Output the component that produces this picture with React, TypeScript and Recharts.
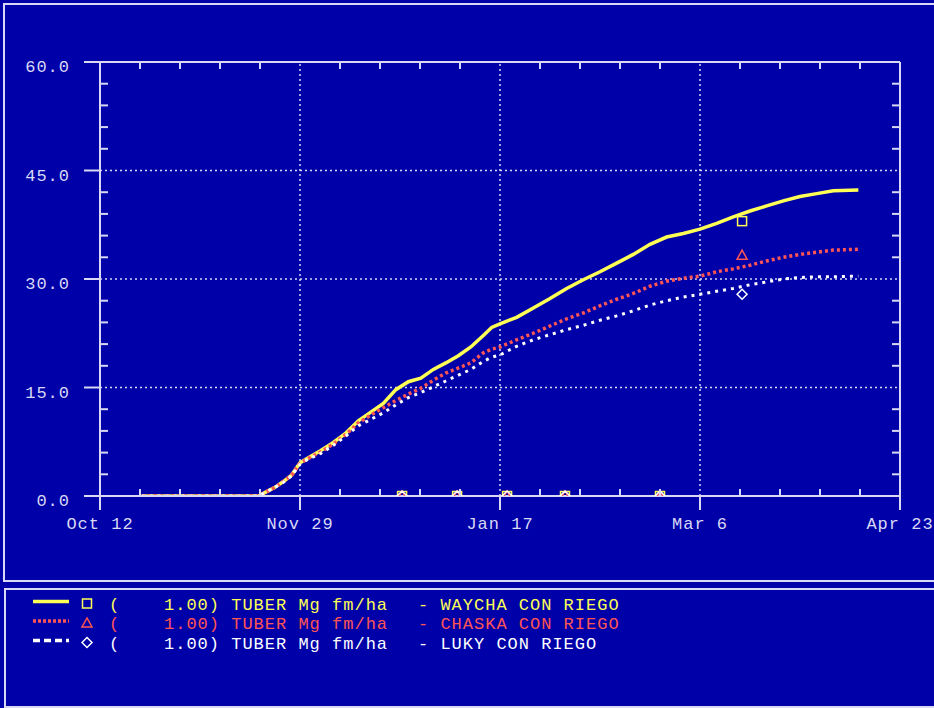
import { ComposedChart, Line, Scatter, XAxis, YAxis, ReferenceLine } from 'recharts'

// simulation days counted from Oct 12
const days = [10, 15, 20, 25, 30, 35, 38, 40, 42, 44, 46, 48, 50, 53, 56, 59, 62, 65, 68, 71, 74, 77, 80, 83, 86, 89, 92, 94, 96, 100, 104, 108, 112, 116, 120, 124, 128, 132, 136, 140, 144, 148, 152, 156, 160, 164, 168, 172, 176, 182]

// tuber dry matter, Mg fm/ha
const waycha = [0, 0, 0, 0, 0, 0, 0, 0.6, 1.2, 2.0, 2.9, 4.6, 5.3, 6.3, 7.4, 8.7, 10.4, 11.6, 12.8, 14.7, 15.8, 16.3, 17.5, 18.4, 19.4, 20.6, 22.2, 23.3, 23.8, 24.7, 26.0, 27.3, 28.7, 29.9, 31.0, 32.2, 33.4, 34.8, 35.8, 36.3, 36.9, 37.7, 38.6, 39.4, 40.1, 40.8, 41.4, 41.8, 42.2, 42.3]
const chaska = [0, 0, 0, 0, 0, 0, 0, 0.6, 1.2, 2.0, 2.9, 4.5, 5.2, 6.1, 7.2, 8.5, 10.1, 11.2, 12.2, 13.2, 14.1, 14.9, 16.0, 17.0, 17.7, 18.4, 19.8, 20.3, 20.6, 21.6, 22.5, 23.5, 24.5, 25.3, 26.3, 27.2, 28.0, 29.0, 29.7, 30.1, 30.4, 31.0, 31.4, 31.9, 32.5, 33.0, 33.4, 33.7, 34.0, 34.1]
const luky = [0, 0, 0, 0, 0, 0, 0, 0.6, 1.2, 1.9, 2.8, 4.4, 5.1, 5.9, 7.0, 8.3, 9.7, 10.6, 11.5, 12.6, 13.6, 14.3, 15.1, 15.9, 16.7, 17.5, 18.6, 19.2, 19.5, 20.7, 21.6, 22.3, 23.0, 23.6, 24.3, 24.9, 25.6, 26.4, 27.0, 27.5, 27.9, 28.3, 28.7, 29.2, 29.6, 30.0, 30.2, 30.3, 30.3, 30.4]

// field observations
const obsDays = [72.5, 85.7, 97.7, 111.6, 134.4, 154.1]
const obsWaycha = [0, 0, 0, 0, 0, 38.0]
const obsChaska = [0, 0, 0, 0, 0, 33.3]
const obsLuky = [0, 0, 0, 0, 0, 27.9]

const xMajorTicks = [0, 48, 96, 144, 192]
const xTickLabels = ['Oct 12', 'Nov 29', 'Jan 17', 'Mar 6', 'Apr 23']
const yMajorTicks = [0, 15, 30, 45, 60]

const BG = '#0000A8'
const AXIS = '#D8D8F4'
const YELLOW = '#FFFF55'
const RED = '#FF5555'
const WHITE = '#FFFFFF'
const FONT = "'Liberation Mono', monospace"

const table = days.map((d, i) => ({ day: d, waycha: waycha[i], chaska: chaska[i], luky: luky[i] }))
const obs = (vals: number[]) => obsDays.map((d, i) => ({ day: d, value: vals[i] }))

// five minor steps between each pair of majors
const withMinors = (majors: number[]) => {
  const out: number[] = []
  for (let i = 0; i < majors.length - 1; i++) {
    const step = (majors[i + 1] - majors[i]) / 5
    for (let k = 0; k < 5; k++) out.push(+(majors[i] + step * k).toFixed(3))
  }
  out.push(majors[majors.length - 1])
  return out
}
const xTicks = withMinors(xMajorTicks)
const yTicks = withMinors(yMajorTicks)
const isMajor = (majors: number[], v: number) => majors.some(m => Math.abs(m - v) < 1e-6)

const BottomTick = (props: any) => {
  const { x, y, payload } = props
  const idx = xMajorTicks.findIndex(m => Math.abs(m - payload.value) < 1e-6)
  if (idx < 0) return <line x1={x} x2={x} y1={y} y2={y - 7} stroke={AXIS} strokeWidth={2} />
  return (
    <g>
      <line x1={x} x2={x} y1={y} y2={y + 14} stroke={AXIS} strokeWidth={2} />
      <text x={x} y={y + 33} textAnchor="middle" fill={AXIS} fontFamily={FONT} fontSize={17} letterSpacing={1}>
        {xTickLabels[idx]}
      </text>
    </g>
  )
}

const TopTick = (props: any) => {
  const { x, y, payload } = props
  if (isMajor(xMajorTicks, payload.value)) return <g />
  return <line x1={x} x2={x} y1={y} y2={y + 7} stroke={AXIS} strokeWidth={2} />
}

const LeftTick = (props: any) => {
  const { x, y, payload } = props
  if (!isMajor(yMajorTicks, payload.value)) return <line x1={x} x2={x + 8} y1={y} y2={y} stroke={AXIS} strokeWidth={2} />
  return (
    <g>
      <line x1={x - 16} x2={x} y1={y} y2={y} stroke={AXIS} strokeWidth={2} />
      <text x={x - 30} y={y + 10} textAnchor="end" fill={AXIS} fontFamily={FONT} fontSize={17} letterSpacing={1}>
        {payload.value.toFixed(1)}
      </text>
    </g>
  )
}

const RightTick = (props: any) => {
  const { x, y, payload } = props
  if (isMajor(yMajorTicks, payload.value)) return <g />
  return <line x1={x} x2={x - 8} y1={y} y2={y} stroke={AXIS} strokeWidth={2} />
}

const Square = ({ cx, cy, color }: any) => (
  <rect x={cx - 4.5} y={cy - 4.5} width={9} height={9} fill="none" stroke={color} strokeWidth={1.5} />
)
const Triangle = ({ cx, cy, color }: any) => (
  <polygon points={`${cx},${cy - 5} ${cx - 5},${cy + 4} ${cx + 5},${cy + 4}`} fill="none" stroke={color} strokeWidth={1.5} />
)
const Diamond = ({ cx, cy, color }: any) => (
  <polygon points={`${cx},${cy - 5} ${cx + 5},${cy} ${cx},${cy + 5} ${cx - 5},${cy}`} fill="none" stroke={color} strokeWidth={1.5} />
)

const series = [
  { key: 'waycha', name: 'WAYCHA CON RIEGO', color: YELLOW, width: 3.5, dash: undefined, legendDash: undefined, Marker: Square, obs: obsWaycha },
  { key: 'chaska', name: 'CHASKA CON RIEGO', color: RED, width: 3.5, dash: '3 3', legendDash: '3 2', Marker: Triangle, obs: obsChaska },
  { key: 'luky', name: 'LUKY CON RIEGO', color: WHITE, width: 3, dash: '3 5', legendDash: '7 4', Marker: Diamond, obs: obsLuky },
]

const gridLine = { stroke: AXIS, strokeDasharray: '2 3', strokeWidth: 1.5 }

function Legend() {
  return (
    <svg width={934} height={120} style={{ position: 'absolute', left: 0, top: 588 }}>
      {series.map((s, i) => {
        const cy = 15.5 + i * 19.5
        return (
          <g key={s.key}>
            <line x1={33} x2={69} y1={cy - 2} y2={cy - 2} stroke={s.color} strokeWidth={3.5} strokeDasharray={s.legendDash} />
            <s.Marker cx={87} cy={cy} color={s.color} />
            <g fill={s.color} fontFamily={FONT} fontSize={17} letterSpacing={1}>
              <text x={109} y={cy + 6}>(</text>
              <text x={164} y={cy + 6}>1.00) TUBER Mg fm/ha</text>
              <text x={418} y={cy + 6}>- {s.name}</text>
            </g>
          </g>
        )
      })}
    </svg>
  )
}

export default function App() {
  return (
    <div style={{ position: 'absolute', left: 0, top: 0, width: 934, height: 708, background: BG, overflow: 'hidden' }}>
      <div style={{ position: 'absolute', left: 3, top: 3, width: 960, height: 575, border: `2px solid ${AXIS}` }} />
      <div style={{ position: 'absolute', left: 4, top: 588, width: 960, height: 116, border: `2px solid ${AXIS}` }} />
      <div style={{ position: 'absolute', left: 0, top: 0 }}>
        <ComposedChart width={934} height={580} data={table} margin={{ top: 52, right: 0, bottom: 44, left: 0 }}>
          <XAxis dataKey="day" type="number" domain={[0, 192]} ticks={xTicks} interval={0} allowDataOverflow
            tickSize={0} tickMargin={0} height={40} tickLine={false} axisLine={{ stroke: AXIS, strokeWidth: 2 }} tick={BottomTick} />
          <XAxis xAxisId="top" orientation="top" dataKey="day" type="number" domain={[0, 192]} ticks={xTicks} interval={0} allowDataOverflow
            tickSize={0} tickMargin={0} height={10} tickLine={false} axisLine={{ stroke: AXIS, strokeWidth: 2 }} tick={TopTick} />
          <YAxis type="number" domain={[0, 60]} ticks={yTicks} interval={0} allowDataOverflow
            tickSize={0} tickMargin={0} width={100} tickLine={false} axisLine={{ stroke: AXIS, strokeWidth: 2 }} tick={LeftTick} />
          <YAxis yAxisId="right" orientation="right" type="number" domain={[0, 60]} ticks={yTicks} interval={0} allowDataOverflow
            tickSize={0} tickMargin={0} width={34} tickLine={false} axisLine={{ stroke: AXIS, strokeWidth: 2 }} tick={RightTick} />
          {[15, 30, 45].map(v => <ReferenceLine key={'h' + v} y={v} {...gridLine} />)}
          {[48, 96, 144].map(v => <ReferenceLine key={'v' + v} x={v} {...gridLine} />)}
          {series.map(s => (
            <Line key={s.key} dataKey={s.key} type="linear" stroke={s.color} strokeWidth={s.width}
              strokeDasharray={s.dash} dot={false} activeDot={false} isAnimationActive={false} />
          ))}
          {series.map(s => (
            <Scatter key={'o' + s.key} data={obs(s.obs)} dataKey="value" isAnimationActive={false}
              shape={(p: any) => <s.Marker cx={p.cx} cy={p.cy} color={s.color} />} />
          ))}
        </ComposedChart>
      </div>
      <Legend />
    </div>
  )
}
